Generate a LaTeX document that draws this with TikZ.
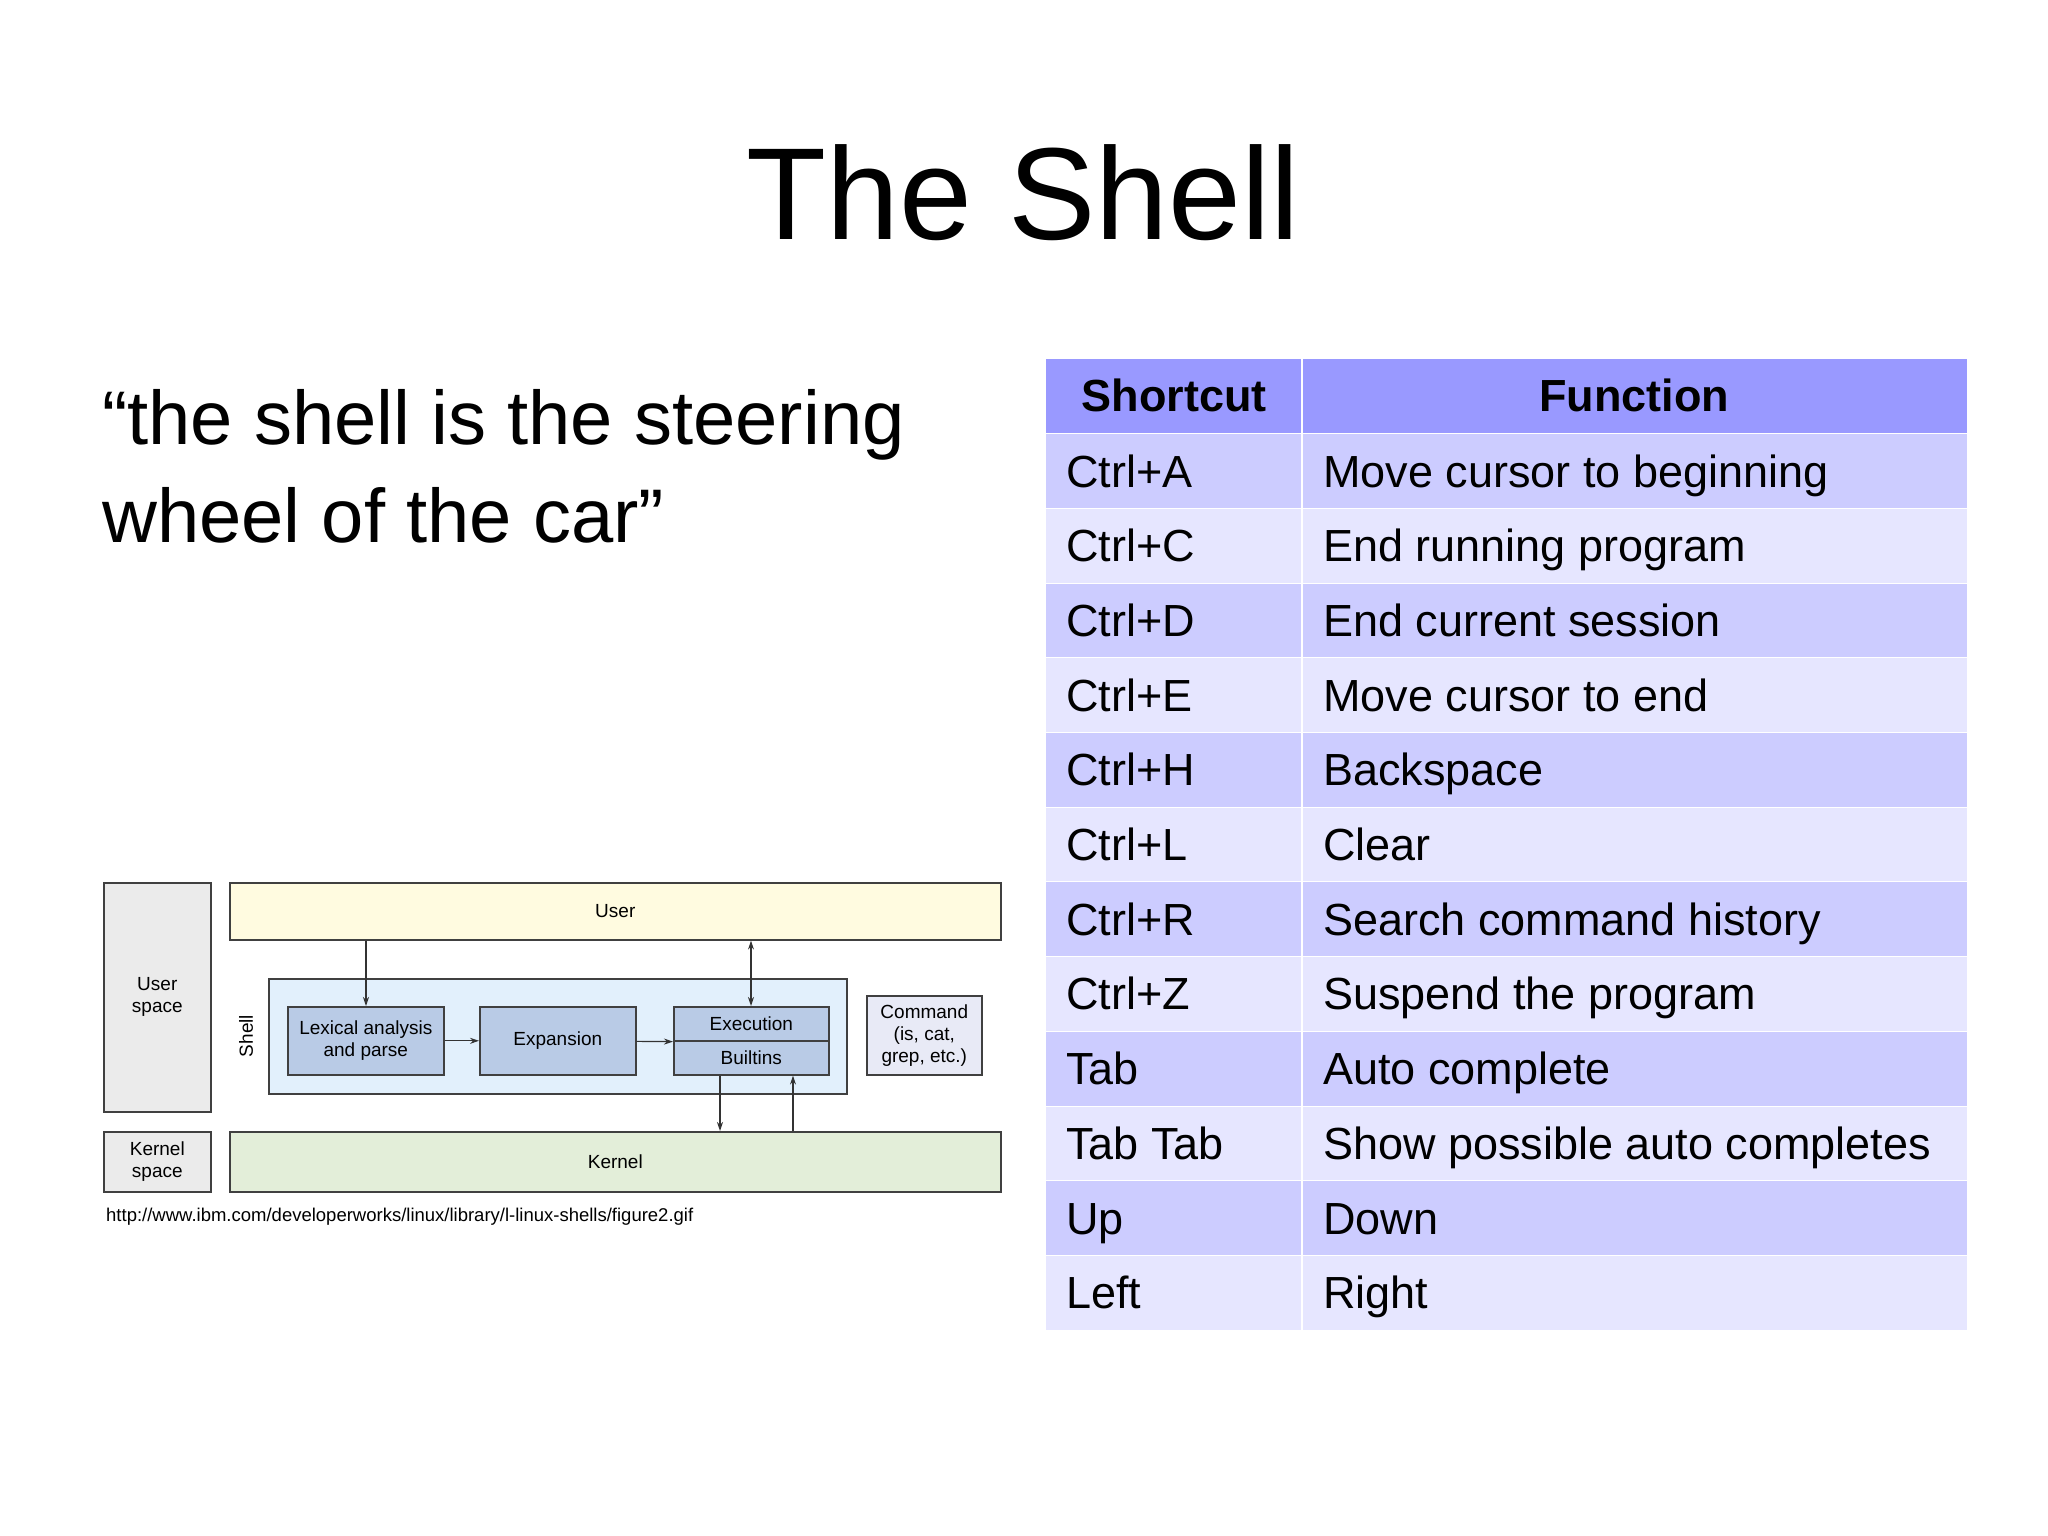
\documentclass[tikz,border=0pt]{standalone}
\usepackage{fontspec}
\setmainfont{Liberation Sans}
\usetikzlibrary{arrows.meta}
\definecolor{hdr}{HTML}{9999FF}
\definecolor{rowa}{HTML}{CCCCFF}
\definecolor{rowb}{HTML}{E6E6FF}
\definecolor{userc}{HTML}{FFFBE0}
\definecolor{shellc}{HTML}{E2F0FC}
\definecolor{innerc}{HTML}{B9CBE6}
\definecolor{cmdc}{HTML}{E8EAF6}
\definecolor{kernc}{HTML}{E3EED9}
\definecolor{spc}{HTML}{EBEBEB}
\tikzset{
 box/.style={draw=black!75,line width=1.6pt},
 dtxt/.style={font=\fontsize{19}{22}\selectfont,align=center},
 cell/.style={anchor=base west,font=\fontsize{45}{50}\selectfont,inner sep=0},
 arr/.style={-{Stealth[length=9pt,width=6pt]},line width=1.2pt,black!80}
}
\begin{document}
\begin{tikzpicture}[x=1pt,y=-1pt]
\useasboundingbox (0,0) rectangle (2048,1535);
\node[anchor=base,font=\fontsize{131}{140}\selectfont,inner sep=0] (title) at (1023,239) {The Shell};
\node[anchor=base west,font=\fontsize{76}{98}\selectfont,inner sep=0] (q1) at (102,444) {“the shell is the steering};
\node[anchor=base west,font=\fontsize{76}{98}\selectfont,inner sep=0] (q2) at (102,542) {wheel of the car”};
% table
\def\rh{74.7}
\fill[hdr] (1046,359) rectangle (1967,{359+\rh});
\foreach \i in {1,...,12}{
  \pgfmathsetmacro\yy{359+\i*\rh}
  \ifodd\i \fill[rowa] (1046,\yy) rectangle (1967,\yy+\rh); \else \fill[rowb] (1046,\yy) rectangle (1967,\yy+\rh); \fi
}
\draw[white,line width=1.5pt] (1302,359) -- (1302,1330);
\foreach \i in {1,...,12}{ \draw[white,line width=1pt] (1046,{359+\i*\rh}) -- (1967,{359+\i*\rh}); }
\node[cell,anchor=base,font=\fontsize{45}{50}\selectfont\bfseries] (h1) at (1174,411) {Shortcut};
\node[cell,anchor=base,font=\fontsize{45}{50}\selectfont\bfseries] (h2) at (1634,411) {Function};
\foreach \k/\f [count=\i] in {Ctrl+A/Move cursor to beginning,Ctrl+C/End running program,Ctrl+D/End current session,Ctrl+E/Move cursor to end,Ctrl+H/Backspace,Ctrl+L/Clear,Ctrl+R/Search command history,Ctrl+Z/Suspend the program,Tab/Auto complete,Tab Tab/Show possible auto completes,Up/Down/Command history,Left/Right/Move cursor}{
  \pgfmathsetmacro\yy{359+\i*\rh+\rh/2+16}
  \node[cell] (k\i) at (1066,\yy) {\k};
  \node[cell] (f\i) at (1323,\yy) {\f};
}
% diagram
\node[box,fill=spc,minimum width=107pt,minimum height=229pt,dtxt,anchor=north west] (us) at (103,882) {User\\space};
\node[box,fill=userc,minimum width=771pt,minimum height=57pt,dtxt,anchor=north west] (user) at (229,882) {User};
\node[box,fill=shellc,minimum width=578pt,minimum height=115pt,anchor=north west] (shell) at (268,978) {};
\node[dtxt,rotate=90] (shl) at (246,1036) {Shell};
\node[box,fill=innerc,minimum width=156pt,minimum height=68pt,dtxt,anchor=north west] (lex) at (287,1006) {Lexical analysis\\and parse};
\node[box,fill=innerc,minimum width=156pt,minimum height=68pt,dtxt,anchor=north west] (exp) at (479,1006) {Expansion};
\node[box,fill=innerc,minimum width=155pt,minimum height=34pt,dtxt,anchor=north west] (exe) at (673,1006) {Execution};
\node[box,fill=innerc,minimum width=155pt,minimum height=34pt,dtxt,anchor=north west] (bui) at (673,1040) {Builtins};
\node[box,fill=cmdc,minimum width=115pt,minimum height=79pt,dtxt,anchor=north west] (cmd) at (866,995) {Command\\(is, cat,\\grep, etc.)};
\node[box,fill=spc,minimum width=107pt,minimum height=60pt,dtxt,anchor=north west] (ks) at (103,1131) {Kernel\\space};
\node[box,fill=kernc,minimum width=771pt,minimum height=60pt,dtxt,anchor=north west] (kern) at (229,1131) {Kernel};
\draw[arr] (user.south -| 366,0) -- (lex.north -| 366,0);
\draw[arr,{Stealth[length=9pt,width=6pt]}-{Stealth[length=9pt,width=6pt]}] (user.south -| 751,0) -- (exe.north -| 751,0);
\draw[arr] (lex) -- (exp);
\draw[arr] (exp) -- (exe.south west);
\draw[arr] (bui.south -| 720,0) -- (kern.north -| 720,0);
\draw[arr] (kern.north -| 793,0) -- (bui.south -| 793,0);
\node[anchor=base west,font=\fontsize{18.5}{20}\selectfont,inner sep=0] (url) at (106,1221) {http://www.ibm.com/developerworks/linux/library/l-linux-shells/figure2.gif};
\end{tikzpicture}
\end{document}
